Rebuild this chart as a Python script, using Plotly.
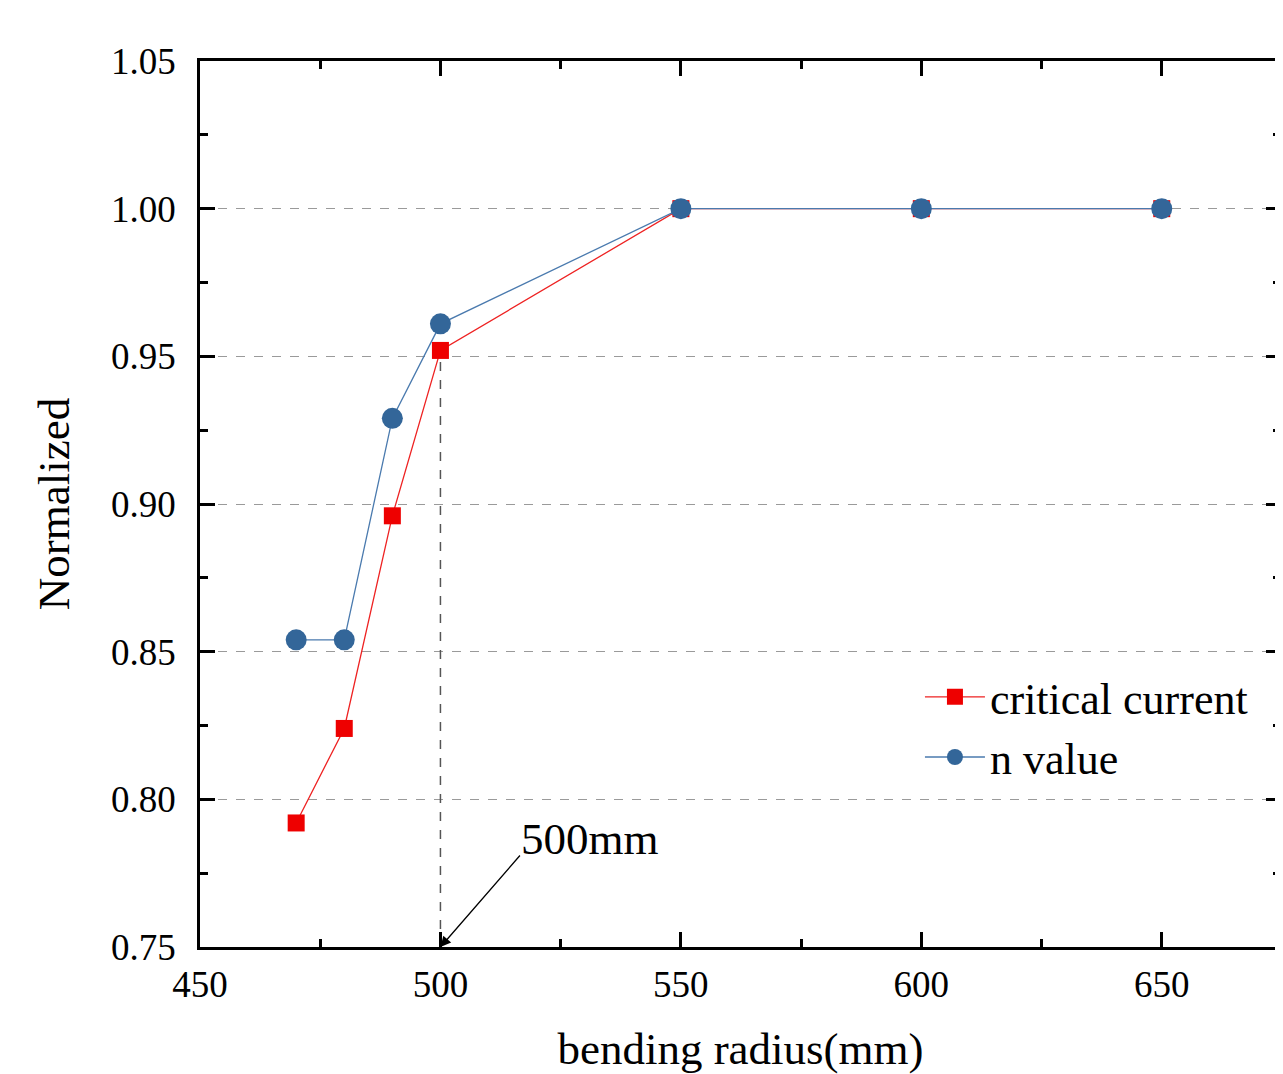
import plotly.graph_objects as go

radius = [470, 480, 490, 500, 550, 600, 650]
critical_current = [0.792, 0.824, 0.896, 0.952, 1.0, 1.0, 1.0]
n_value = [0.854, 0.854, 0.929, 0.961, 1.0, 1.0, 1.0]

marker_x = [500, 500]
marker_y = [0.75, 0.952]

x_ticks = [450, 500, 550, 600, 650]
y_ticks = [0.75, 0.80, 0.85, 0.90, 0.95, 1.00, 1.05]

FONT = "Liberation Serif, Times New Roman, serif"

fig = go.Figure()

fig.add_trace(go.Scatter(
    x=marker_x, y=marker_y, mode="lines",
    line=dict(color="#555555", width=1.5, dash="dash"),
    showlegend=False, hoverinfo="skip"))

fig.add_trace(go.Scatter(
    x=radius, y=critical_current, mode="lines+markers",
    name="critical current",
    line=dict(color="#EE2222", width=1.3),
    marker=dict(symbol="square", size=17, color="#EE0000")))

fig.add_trace(go.Scatter(
    x=radius, y=n_value, mode="lines+markers",
    name="n value",
    line=dict(color="#4A7AAE", width=1.3),
    marker=dict(symbol="circle", size=21, color="#336699")))

fig.add_annotation(
    x=500, y=0.75, xref="x", yref="y",
    ax=516.8, ay=0.7815, axref="x", ayref="y",
    text="", showarrow=True, arrowhead=2, arrowsize=1.6,
    arrowwidth=1.3, arrowcolor="black")

fig.add_annotation(
    x=516.4, y=0.7865, xref="x", yref="y",
    text="500mm", showarrow=False, xanchor="left", yanchor="middle",
    font=dict(family=FONT, size=45, color="black"))

axis_common = dict(
    showline=True, linecolor="black", linewidth=2.8, mirror="ticks",
    ticks="inside", ticklen=15, tickwidth=2.5, tickcolor="black",
    tickfont=dict(family=FONT, size=37, color="black"),
    zeroline=False, automargin=False,
)

fig.update_xaxes(
    **axis_common,
    range=[450, 674.8], tickvals=x_ticks, ticktext=[str(v) for v in x_ticks],
    showgrid=False,
    minor=dict(ticks="inside", dtick=25, tick0=450, ticklen=8, tickwidth=2.5, tickcolor="black", showgrid=False),
    title=dict(text="bending radius(mm)", font=dict(family=FONT, size=45, color="black"), standoff=33),
    ticklabelstandoff=3,
)

fig.update_yaxes(
    **axis_common,
    range=[0.75, 1.05], tickvals=y_ticks, ticktext=[f"{v:.2f}" for v in y_ticks],
    showgrid=True, gridcolor="#9a9a9a", gridwidth=1, griddash="dash",
    minor=dict(ticks="inside", dtick=0.025, tick0=0.75, ticklen=8, tickwidth=2.5, tickcolor="black", showgrid=False),
    title=dict(text="Normalized", font=dict(family=FONT, size=45, color="black"), standoff=28),
    ticklabelstandoff=14,
)

fig.update_layout(
    width=1275, height=1066,
    margin=dict(l=192, r=2, t=53, b=127),
    paper_bgcolor="white", plot_bgcolor="white",
    legend=dict(
        x=0.666, y=0.322, xanchor="left", yanchor="top",
        bgcolor="rgba(0,0,0,0)",
        font=dict(family=FONT, size=44, color="black"),
        itemwidth=60, tracegroupgap=0,
    ),
)

fig.write_html("out.html")
